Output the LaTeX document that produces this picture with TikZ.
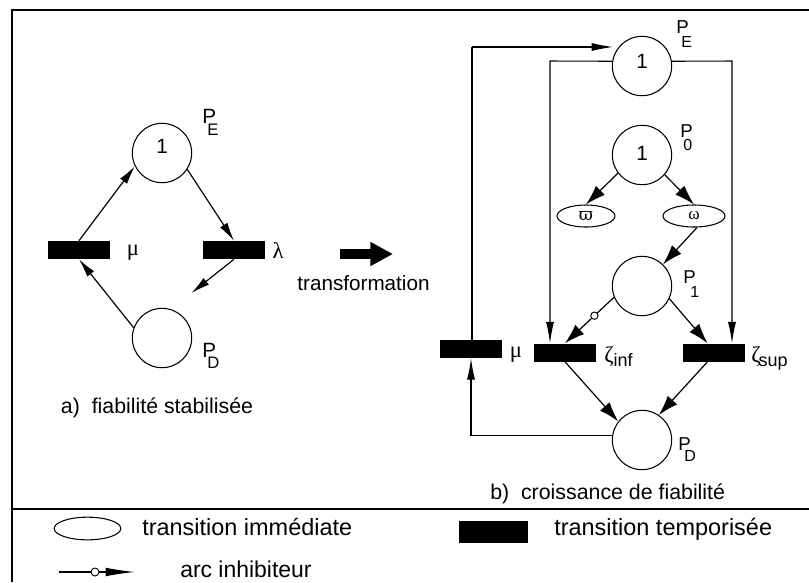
\documentclass[tikz,border=0pt]{standalone}
\usepackage{fontspec}
\usepackage{graphicx}
\setmainfont{Liberation Sans}
\newfontfamily\grk{Liberation Serif}
\newfontfamily\grkb{DejaVu Serif}
\usetikzlibrary{arrows.meta,shapes.geometric,calc}
\tikzset{
  place/.style={circle,draw,line width=0.8pt,minimum size=44.5pt,inner sep=0pt},
  timed/.style={fill=black,draw=none,minimum width=46.5pt,minimum height=13.5pt,inner sep=0pt},
  immed/.style={ellipse,draw,line width=0.8pt,minimum width=43.5pt,minimum height=16.5pt,inner sep=0pt,font=\grk\fontsize{13}{15}\selectfont},
  conn/.style={line width=0.9pt,-{Latex[length=14pt,width=6.5pt]}},
  connlong/.style={line width=0.8pt,-{Latex[length=16pt,width=6pt]}},
  connb/.style={line width=0.9pt,-{Latex[length=15pt,width=9.5pt]}},
  ln/.style={line width=0.8pt},
  frameline/.style={line width=1.9pt},
  inhib/.style={circle,draw,fill=white,line width=0.7pt,minimum size=5.5pt,inner sep=0pt},
  txt/.style={inner sep=0pt,font=\fontsize{15.5}{18}\selectfont},
  lgtxt/.style={inner sep=0pt,anchor=base west,font=\fontsize{17.6}{20}\selectfont},
  ptxt/.style={inner sep=0pt,anchor=base west,font=\fontsize{15.5}{18}\selectfont},
  stxt/.style={inner sep=0pt,anchor=base west,font=\fontsize{12.5}{14}\selectfont},
  rptxt/.style={inner sep=0pt,anchor=base west,font=\fontsize{14}{16}\selectfont},
  rstxt/.style={inner sep=0pt,anchor=base west,font=\fontsize{12}{14}\selectfont},
  gtxt/.style={inner sep=0pt,font=\grk\fontsize{17}{20}\selectfont},
}
\begin{document}
\begin{tikzpicture}[x=0.75pt,y=-0.75pt]
\useasboundingbox (0,0) rectangle (809,582);
% frame
\draw[frameline] (809,10) -- (12,10) -- (12,582);
\draw[frameline] (12,509) -- (809,509);

% ---------- a) left net ----------
\node[place] (pe1) at (162,153) {};
\node[txt] (pe1n) at (162,146) {1};
\node[place] (pd1) at (162,338) {};
\node[timed] (mu1) at (79,250) {};
\node[timed] (la1) at (234,250) {};
\node[ptxt] (pe1p) at (202,123) {P};
\node[stxt] (pe1s) at (207,135) {E};
\node[ptxt] (pd1p) at (202,357) {P};
\node[stxt] (pd1s) at (207,368) {D};
\node[gtxt] (mu1l) at (133,253) {μ};
\node[gtxt] (la1l) at (278,251) {λ};
\coordinate (pd1t) at ($(pd1)+(29.5,-45)$);
\draw[conn] (mu1.north) -- (pe1.206);
\draw[conn] (pe1.-33) -- (la1.north);
\draw[conn] (la1.south) -- (pd1t);
\draw[conn] (pd1.160) -- (mu1.south);
\node[txt,font=\fontsize{16}{19}\selectfont] (capa) at (157,408) {a)\ \ fiabilité stabilisée};

% ---------- transformation ----------
\coordinate (ta) at (340,254);
\coordinate (tb) at (393,254);
\draw[line width=7pt,-{Triangle[length=17pt,width=17pt]}] (ta) -- (tb);
\node[txt] (trf) at (363.5,283) {transformation};

% ---------- b) right net ----------
\node[place] (pe2) at (642,66) {};
\node[txt] (pe2n) at (642,61) {1};
\node[place] (p0) at (642,155) {};
\node[txt] (p0n) at (642,153) {1};
\node[immed] (vp) at (586,216) {{\grkb ϖ}};
\node[immed,minimum width=46.5pt] (om) at (694,216) {ω};
\node[place] (p1) at (642,286) {};
\node[timed] (mu2) at (471,349) {};
\node[timed] (zinf) at (565,352.5) {};
\node[timed] (zsup) at (713.5,352.5) {};
\node[place] (pd2) at (642,440) {};

\node[rptxt] (pe2p) at (676,33) {P};
\node[rstxt] (pe2s) at (681,47) {E};
\node[rptxt] (p0p) at (680,137) {P};
\node[rstxt] (p0s) at (683,150) {0};
\node[rptxt] (p1p) at (683,283) {P};
\node[rstxt] (p1s) at (690,297) {1};
\node[rptxt] (pd2p) at (678,450) {P};
\node[rstxt] (pd2s) at (684,461) {D};
\node[gtxt] (mu2l) at (516,355) {μ};
\node[inner sep=0pt,anchor=base west] (zinfl) at (604,362)
  {{\grk\fontsize{17}{20}\selectfont ζ}\raisebox{-3pt}{\fontsize{13.5}{16}\selectfont inf}};
\node[inner sep=0pt,anchor=base west] (zsupl) at (751,362)
  {{\grk\fontsize{17}{20}\selectfont ζ}\kern-1.5pt\raisebox{-3pt}{\fontsize{13.5}{16}\selectfont sup}};

\coordinate (ll) at (472,47);
\coordinate (petgt) at ($(pe2)+(-29,-19)$);
\coordinate (cl) at (550,61);
\coordinate (cr) at (732,61);
\draw[connlong] (ll) -- (petgt);
\draw[ln] (ll) -- (ll |- mu2.north);
\draw[connlong] (pe2.171) -- (cl) -- (cl |- zinf.north);
\draw[connlong] (pe2.9) -- (cr) -- (cr |- zsup.north);
\draw[connb] (p0.217) -- (vp.north);
\draw[connb] (p0.-41) -- (om.north);
\draw[connb] (om.-75) -- (p1.46);
\draw[connb] (p1.202) -- node[inhib,pos=0.4] (ic) {} (zinf.north);
\draw[connb] (p1.-25) -- ($(zsup.north)+(-6,0)$);
\draw[connb] (zinf.south) -- (pd2.142);
\draw[connb] ($(zsup.south)+(-6,0)$) -- (pd2.56);
\draw[connlong] (pd2.172) -| (mu2.south);
\node[inner sep=0pt,anchor=base west,font=\fontsize{16}{19}\selectfont] (capb) at (490,499) {b)\ \ croissance de fiabilité};

% ---------- legend ----------
\node[immed,minimum width=50pt,minimum height=17pt] (lgi) at (87.5,528.5) {};
\node[lgtxt] (lgit) at (142,535) {transition immédiate};
\node[timed,minimum width=52pt,minimum height=16pt] (lgt) at (493.5,532) {};
\node[lgtxt] (lgtt) at (554,535) {transition temporisée};
\coordinate (lga) at (59,572);
\node[inhib,minimum size=6pt] (lgc) at (95,572) {};
\coordinate (lgb) at (135,572);
\draw[ln] (lga) -- (lgc.west);
\draw[line width=0.9pt,-{Latex[length=22pt,width=6.5pt]}] (lgc.east) -- (lgb);
\node[lgtxt,font=\fontsize{17.2}{20}\selectfont] (lgat) at (180,577) {arc inhibiteur};
\end{tikzpicture}
\end{document}
